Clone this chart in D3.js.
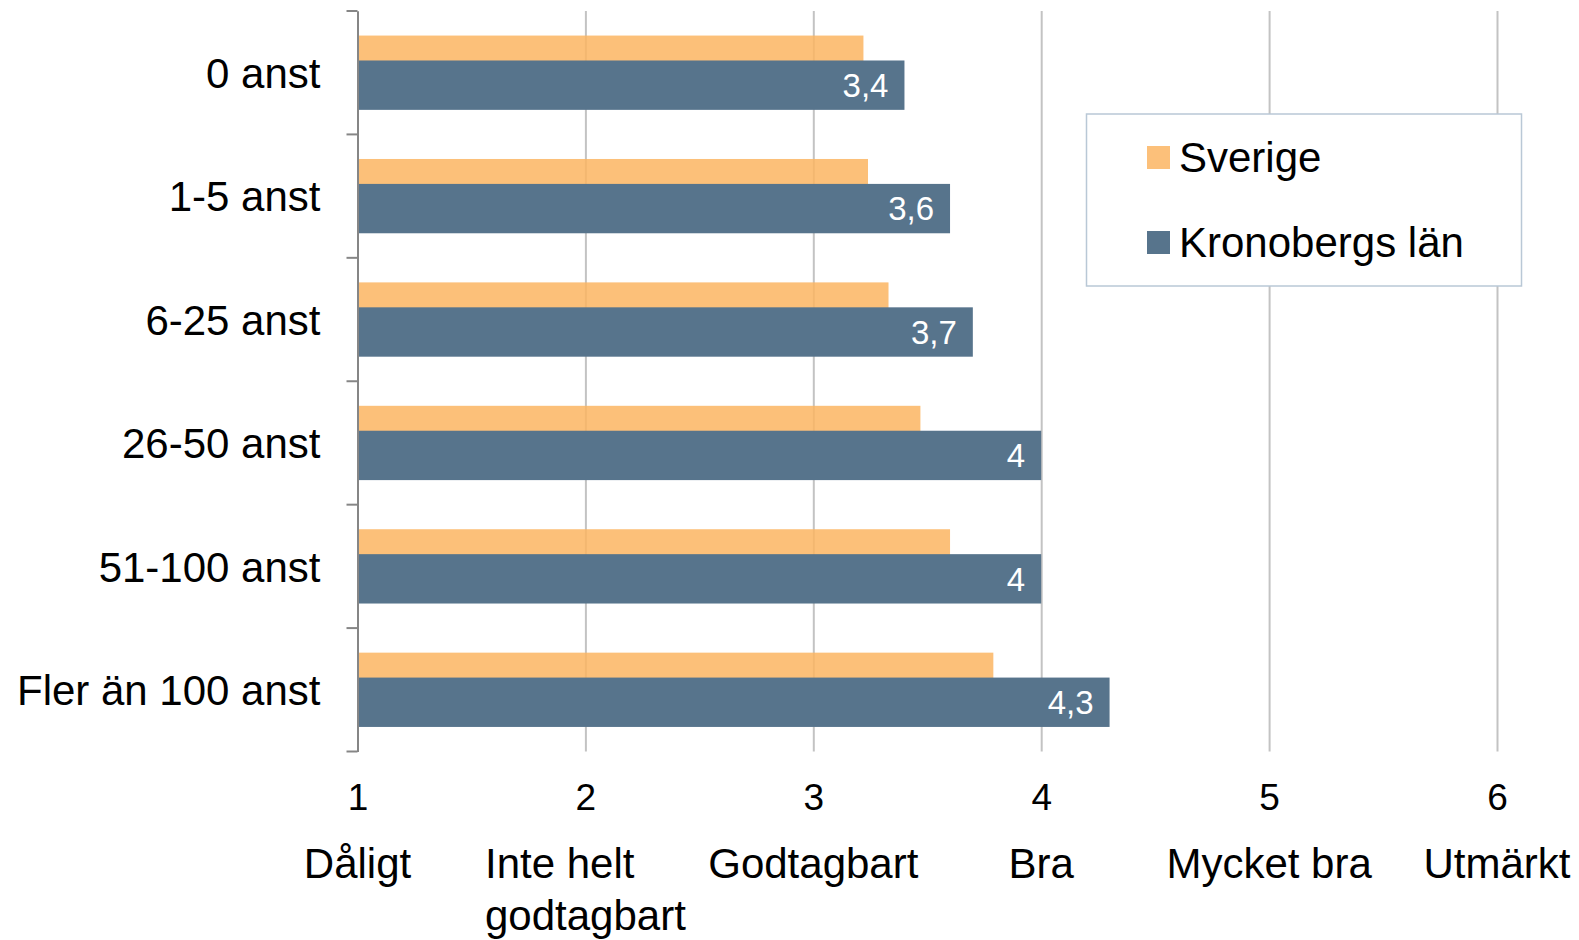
<!DOCTYPE html>
<html>
<head>
<meta charset="utf-8">
<script src="https://cdn.jsdelivr.net/npm/d3@7"></script>
<style>
  body { margin: 0; background: #fff; }
  svg text { font-family: "Liberation Sans", Arial, sans-serif; fill: #000; }
</style>
</head>
<body>
<div id="plotarea"></div>
<script>
// data
var categories = ["0 anst", "1-5 anst", "6-25 anst", "26-50 anst", "51-100 anst", "Fler än 100 anst"];
var sverige = [3.22, 3.24, 3.33, 3.47, 3.6, 3.79];
var kronoberg = [3.4, 3.6, 3.7, 4.0, 4.0, 4.3];
var seriesNames = ["Sverige", "Kronobergs län"];
var xTicks = [1, 2, 3, 4, 5, 6];
var xTickLabels = [["Dåligt"], ["Inte helt", "godtagbart"], ["Godtagbart"], ["Bra"], ["Mycket bra"], ["Utmärkt"]];

function drawBarChart() {
    var width = 1579, height = 940;
    var orange = "#fcb562", blue = "#57748c";

    var x = d3.scaleLinear().domain([1, 6]).range([357.5, 1497]);
    var y = d3.scaleBand().domain(categories).range([11, 751.5]);
    var bw = y.bandwidth();

    var svg = d3.select("#plotarea").append("svg")
                .attr("width", width)
                .attr("height", height);

    // gridlines + numbers
    var xAxis = d3.axisBottom(x)
                  .tickValues(xTicks)
                  .tickSize(-(y.range()[1] - y.range()[0]))
                  .tickPadding(32)
                  .tickFormat(d3.format("d"));
    var gx = svg.append("g")
                .attr("class", "xAxis")
                .attr("transform", "translate(0," + y.range()[1] + ")")
                .call(xAxis);
    gx.select(".domain").remove();
    gx.selectAll("line").attr("stroke", "#c3c3c3").attr("stroke-width", 2);
    gx.selectAll("text").attr("font-size", 37);

    // orange bars (a bit see-through, grid shows through)
    svg.append("g").selectAll("rect")
        .data(sverige)
        .enter()
        .append("rect")
        .attr("x", x(1))
        .attr("y", function(d, i){ return y(categories[i]) + bw * 0.199; })
        .attr("width", function(d){ return x(d) - x(1); })
        .attr("height", bw * 0.4)
        .attr("fill", orange)
        .attr("fill-opacity", 0.85);

    svg.append("g").selectAll("rect")
        .data(kronoberg)
        .enter()
        .append("rect")
        .attr("x", x(1))
        .attr("y", function(d, i){ return y(categories[i]) + bw * 0.401; })
        .attr("width", function(d){ return x(d) - x(1); })
        .attr("height", bw * 0.4)
        .attr("fill", blue);

    // value labels
    svg.append("g").selectAll("text")
        .data(kronoberg)
        .enter()
        .append("text")
        .attr("x", function(d){ return x(d) - 16; })
        .attr("y", function(d, i){ return y(categories[i]) + bw * 0.601; })
        .attr("dy", "0.36em")
        .attr("text-anchor", "end")
        .attr("font-size", 33)
        .style("fill", "#fff")
        .text(function(d){ return String(d).replace(".", ","); });

    // vertical axis with labels
    var yAxis = d3.axisLeft(y).tickSize(0).tickPadding(37);
    var gy = svg.append("g")
                .attr("class", "yAxis")
                .attr("transform", "translate(" + x(1) + ",0)")
                .call(yAxis);
    gy.select(".domain").attr("stroke", "#868686").attr("stroke-width", 2);
    gy.selectAll("text").attr("font-size", 42).attr("dy", "0.36em");

    // tick marks on band edges
    var edges = categories.map(function(c){ return y(c); }).concat([y.range()[1]]);
    gy.selectAll(".edge")
        .data(edges)
        .enter()
        .append("line")
        .attr("class", "edge")
        .attr("x1", -11).attr("x2", 0)
        .attr("y1", function(d){ return d; })
        .attr("y2", function(d){ return d; })
        .attr("stroke", "#868686")
        .attr("stroke-width", 2);

    // scale words under the numbers
    var words = svg.append("g").attr("class", "words");
    xTicks.forEach(function(t, i){
        var txt = words.append("text").attr("font-size", 42);
        xTickLabels[i].forEach(function(line, j){
            txt.append("tspan").attr("y", 878 + j * 52).text(line);
        });
        var w = 0;
        txt.selectAll("tspan").each(function(){ w = Math.max(w, this.getComputedTextLength()); });
        txt.selectAll("tspan").attr("x", x(t) - w / 2);
    });

    // legend
    var legend = svg.append("g").attr("class", "legend");
    legend.append("rect")
        .attr("x", 1086.5).attr("y", 114)
        .attr("width", 435).attr("height", 172)
        .attr("fill", "#fff")
        .attr("stroke", "#b9c8d6")
        .attr("stroke-width", 1.5);
    var colors = ["#fcc07a", blue];
    seriesNames.forEach(function(name, i){
        legend.append("rect")
            .attr("x", 1147).attr("y", 146 + i * 85)
            .attr("width", 23).attr("height", 23)
            .attr("fill", colors[i]);
        legend.append("text")
            .attr("x", 1179).attr("y", 172 + i * 85)
            .attr("font-size", 42)
            .text(name);
    });
}

drawBarChart();
</script>
</body>
</html>
